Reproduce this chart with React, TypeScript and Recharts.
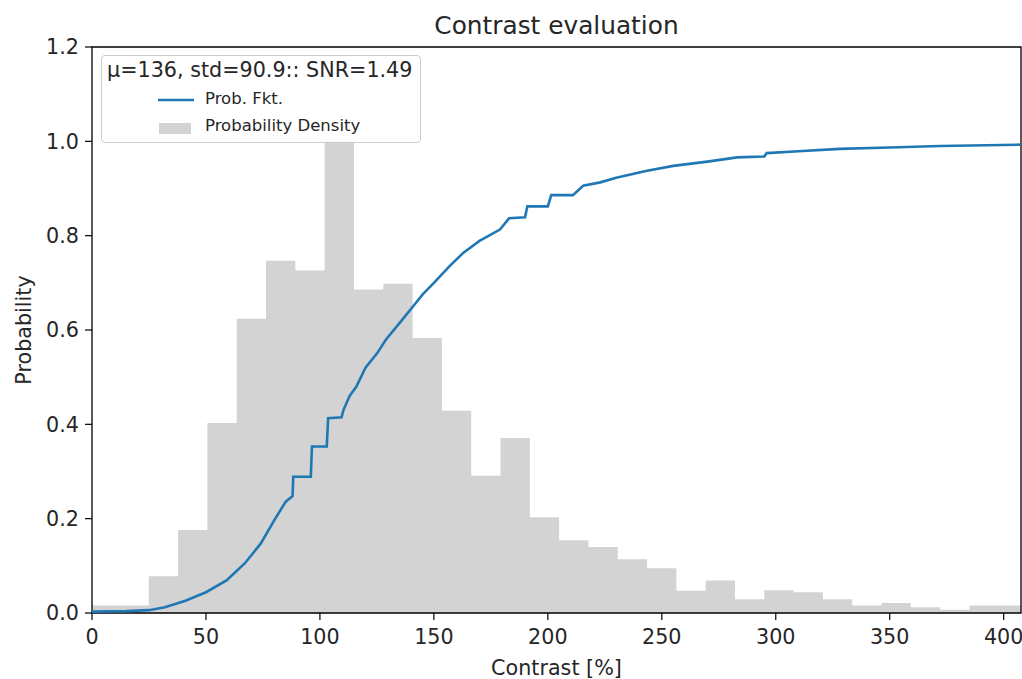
import React from 'react';
import { ComposedChart, Area, Line, XAxis, YAxis, ReferenceArea } from 'recharts';

const FONT = '"DejaVu Sans", sans-serif';
const TEXT = '#262626';
const BLUE = '#1f77b4';
const GREY = '#d3d3d3';

// histogram (32 bins)
const BIN_START = -0.8;
const BIN_WIDTH = 12.86;
const X_MAX = 407.6;
const densityHeights = [
  0.016, 0.016, 0.078, 0.176, 0.403, 0.624, 0.747, 0.726, 1.0, 0.686, 0.698, 0.583,
  0.429, 0.291, 0.371, 0.203, 0.154, 0.14, 0.114, 0.095, 0.047, 0.069, 0.029, 0.048,
  0.044, 0.029, 0.016, 0.021, 0.012, 0.007, 0.016, 0.016,
];

// cumulative probability (Prob. Fkt.)
const cdfContrast = [
  0, 15, 25, 32, 41, 50, 59, 67, 74, 80, 85, 88, 88.3, 96, 96.5, 103, 103.6, 109.5, 110.3,
  113, 116, 120, 125, 129, 135, 141, 145, 150, 157, 163, 170, 179, 183, 190, 191, 200,
  201.5, 211, 215.5, 223, 230, 243, 255, 270, 283, 295, 296, 310, 328, 350, 372, 407.6,
];
const cdfProb = [
  0.003, 0.004, 0.006, 0.012, 0.026, 0.044, 0.069, 0.105, 0.147, 0.197, 0.236, 0.248, 0.289,
  0.289, 0.353, 0.353, 0.413, 0.415, 0.43, 0.46, 0.48, 0.52, 0.55, 0.58, 0.615, 0.651, 0.675,
  0.7, 0.736, 0.764, 0.789, 0.813, 0.837, 0.839, 0.862, 0.862, 0.886, 0.886, 0.906, 0.913,
  0.923, 0.937, 0.948, 0.957, 0.966, 0.968, 0.975, 0.979, 0.984, 0.987, 0.99, 0.993,
];

const xTicks = [0, 50, 100, 150, 200, 250, 300, 350, 400];
const yTicks = [0, 0.2, 0.4, 0.6, 0.8, 1.0, 1.2];

const histData = densityHeights.map((h, i) => ({
  x: Math.max(0, BIN_START + i * BIN_WIDTH),
  h,
}));
histData.push({ x: X_MAX, h: densityHeights[densityHeights.length - 1] });

const cdfData = cdfContrast.map((x, i) => ({ x, p: cdfProb[i] }));

const tickStyle = { fill: TEXT, fontSize: 20.7, fontFamily: FONT };

export default function App() {
  return (
    <div style={{ position: 'absolute', left: 0, top: 0, width: 1022, height: 679, background: '#fff' }}>
      <div
        style={{
          position: 'absolute', left: 92, width: 929, top: 14, textAlign: 'center',
          fontFamily: FONT, fontSize: 24.8, lineHeight: 1, color: TEXT,
        }}
      >
        Contrast evaluation
      </div>
      <ComposedChart width={1022} height={679} margin={{ top: 47, right: 1, bottom: 0, left: 0 }}>
        <XAxis
          type="number"
          dataKey="x"
          domain={[0, X_MAX]}
          ticks={xTicks}
          height={66}
          tickSize={7}
          tickMargin={9}
          axisLine={false}
          tickLine={{ stroke: '#000', strokeWidth: 1.2 }}
          tick={tickStyle}
          allowDataOverflow
          label={{ value: 'Contrast [%]', position: 'insideBottom', offset: 4, fill: TEXT, fontSize: 20.7, fontFamily: FONT }}
        />
        <YAxis
          type="number"
          domain={[0, 1.2]}
          ticks={yTicks}
          width={92}
          tickSize={7}
          tickMargin={6}
          axisLine={false}
          tickLine={{ stroke: '#000', strokeWidth: 1.2 }}
          tick={tickStyle}
          tickFormatter={(v: number) => v.toFixed(1)}
          label={{
            value: 'Probability', angle: -90, position: 'insideLeft', offset: 23.5,
            fill: TEXT, fontSize: 20.7, fontFamily: FONT, style: { textAnchor: 'middle' },
          }}
        />
        <Area
          data={histData}
          dataKey="h"
          type="stepAfter"
          fill={GREY}
          fillOpacity={1}
          stroke="none"
          isAnimationActive={false}
          dot={false}
          activeDot={false}
        />
        <Line
          data={cdfData}
          dataKey="p"
          type="linear"
          stroke={BLUE}
          strokeWidth={2.6}
          dot={false}
          activeDot={false}
          isAnimationActive={false}
        />
        <ReferenceArea x1={0} x2={X_MAX} y1={0} y2={1.2} fill="none" stroke="#000" strokeWidth={1.3} ifOverflow="visible" />
      </ComposedChart>
      <div
        style={{
          position: 'absolute', left: 101, top: 55, width: 320, height: 88, boxSizing: 'border-box',
          border: '1px solid #cccccc', borderRadius: 4, background: 'rgba(255,255,255,0.8)',
          fontFamily: FONT, color: TEXT,
        }}
      >
        <div style={{ position: 'absolute', left: 5, top: 4, fontSize: 20.7, lineHeight: 1, whiteSpace: 'nowrap' }}>
          μ=136, std=90.9:: SNR=1.49
        </div>
        <svg style={{ position: 'absolute', left: 0, top: 0 }} width={320} height={88}>
          <line x1={56} x2={92} y1={44} y2={44} stroke={BLUE} strokeWidth={2.6} />
          <rect x={57} y={67} width={32} height={11} fill={GREY} />
        </svg>
        <div style={{ position: 'absolute', left: 103, top: 35, fontSize: 16.5, lineHeight: 1, whiteSpace: 'nowrap' }}>
          Prob. Fkt.
        </div>
        <div style={{ position: 'absolute', left: 103, top: 62, fontSize: 16.5, lineHeight: 1, whiteSpace: 'nowrap' }}>
          Probability Density
        </div>
      </div>
    </div>
  );
}
